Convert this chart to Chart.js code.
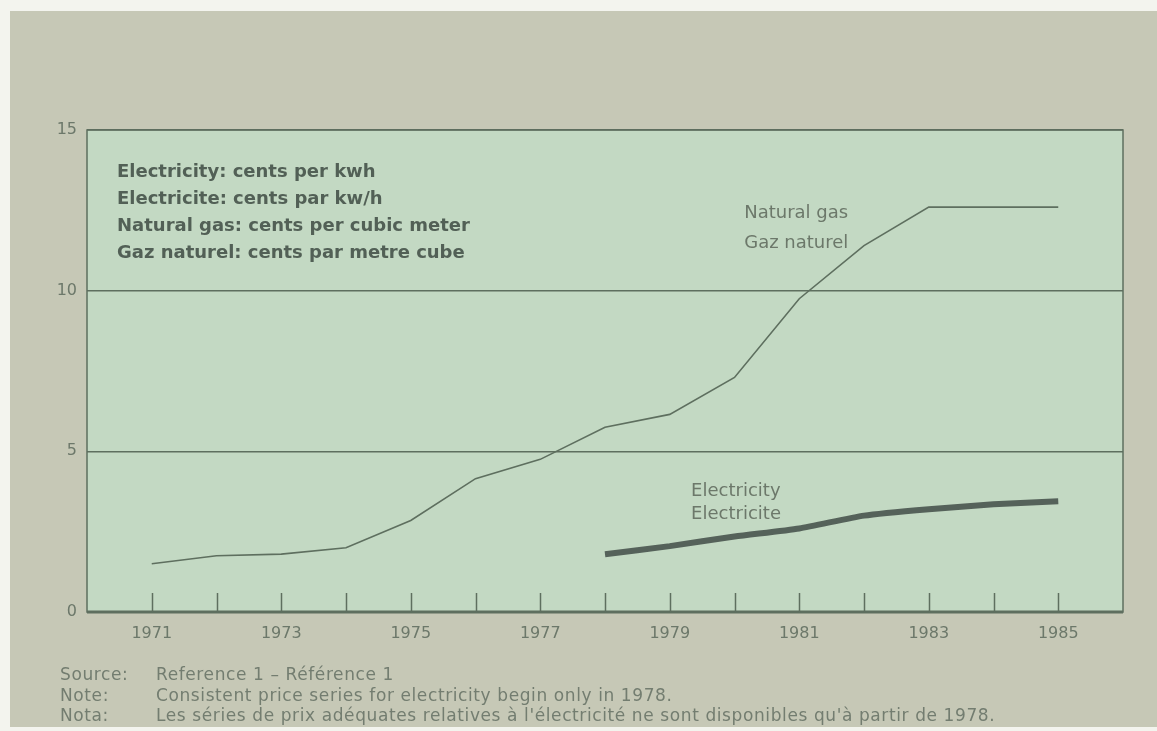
<!DOCTYPE html>
<html>
<head>
<meta charset="utf-8">
<title>Natural gas and electricity prices</title>
<script src="https://cdn.jsdelivr.net/npm/chart.js@4/dist/chart.umd.min.js"></script>
<style>
    html, body { margin: 0; padding: 0; background: #f3f4ee; }
    #price_chart { display: block; }
</style>
</head>
<body>
<canvas id="price_chart" width="1157" height="731"></canvas>
<script>
// values
const gas_years = [1971, 1972, 1973, 1974, 1975, 1976, 1977, 1978, 1979, 1980, 1981, 1982, 1983, 1984, 1985];
const gas_prices = [1.5, 1.75, 1.8, 2.0, 2.85, 4.15, 4.75, 5.75, 6.15, 7.3, 9.75, 11.4, 12.6, 12.6, 12.6];

const elec_years = [1978, 1979, 1980, 1981, 1982, 1983, 1984, 1985];
const elec_prices = [1.8, 2.05, 2.35, 2.6, 3.0, 3.2, 3.35, 3.45];

const unit_notes = [
    'Electricity: cents per kwh',
    'Electricite: cents par kw/h',
    'Natural gas: cents per cubic meter',
    'Gaz naturel: cents par metre cube'
];
const gas_label = ['Natural gas', 'Gaz naturel'];
const elec_label = ['Electricity', 'Electricite'];

const foot_heads = ['Source:', 'Note:', 'Nota:'];
const foot_texts = [
    'Reference 1 \u2013 R\u00e9f\u00e9rence 1',
    'Consistent price series for electricity begin only in 1978.',
    'Les s\u00e9ries de prix ad\u00e9quates relatives \u00e0 l\'\u00e9lectricit\u00e9 ne sont disponibles qu\'\u00e0 partir de 1978.'
];

const font_family = '"DejaVu Sans", "Liberation Sans", sans-serif';
const line_color = '#5e6f5f';
const text_color = '#6c786a';

Chart.defaults.font.family = font_family;

const to_points = (xs, ys) => xs.map((x, i) => ({x: x, y: ys[i]}));

// panel, plot box, inward ticks and all the loose text
const page_plugin = {
    id: 'page_plugin',
    beforeDraw(chart) {
        const ctx = chart.ctx;
        const area = chart.chartArea;
        ctx.save();
        ctx.fillStyle = '#f3f4ee';
        ctx.fillRect(0, 0, chart.width, chart.height);
        ctx.fillStyle = '#c6c8b6';
        ctx.fillRect(10, 11, chart.width - 10, 716);
        ctx.fillStyle = '#c3d9c3';
        ctx.fillRect(area.left, area.top, area.right - area.left, area.bottom - area.top);
        ctx.restore();
    },
    afterDraw(chart) {
        const ctx = chart.ctx;
        const area = chart.chartArea;
        const x_scale = chart.scales.x;
        const y_scale = chart.scales.y;
        ctx.save();

        ctx.strokeStyle = line_color;
        ctx.lineWidth = 1.5;
        ctx.strokeRect(area.left, area.top, area.right - area.left, area.bottom - area.top);
        ctx.lineWidth = 3;
        ctx.beginPath();
        ctx.moveTo(area.left, area.bottom);
        ctx.lineTo(area.right, area.bottom);
        ctx.stroke();

        // ticks point up into the plot
        ctx.lineWidth = 1.5;
        x_scale.ticks.forEach(function(t) {
            if (t.value < gas_years[0] || t.value > gas_years[gas_years.length - 1]) return;
            const px = Math.round(x_scale.getPixelForValue(t.value)) + 0.5;
            ctx.beginPath();
            ctx.moveTo(px, area.bottom);
            ctx.lineTo(px, area.bottom - 19);
            ctx.stroke();
        });

        ctx.textBaseline = 'middle';
        ctx.textAlign = 'left';

        ctx.fillStyle = '#526056';
        ctx.font = 'bold 18px ' + font_family;
        unit_notes.forEach(function(s, i) {
            ctx.fillText(s, area.left + 30, area.top + 42 + i * 27);
        });

        ctx.fillStyle = text_color;
        ctx.font = '18px ' + font_family;
        ctx.fillText(gas_label[0], x_scale.getPixelForValue(1980.15), y_scale.getPixelForValue(12.42));
        ctx.fillText(gas_label[1], x_scale.getPixelForValue(1980.15), y_scale.getPixelForValue(11.48));
        ctx.fillText(elec_label[0], x_scale.getPixelForValue(1979.33), y_scale.getPixelForValue(3.77));
        ctx.fillText(elec_label[1], x_scale.getPixelForValue(1979.33), y_scale.getPixelForValue(3.05));

        // footnotes are set wide in the original
        ctx.fillStyle = '#737d70';
        ctx.font = '17px ' + font_family;
        ctx.letterSpacing = '0.6px';
        foot_heads.forEach(function(h, i) {
            const y = 676 + i * 20.5;
            ctx.fillText(h, 60, y);
            ctx.fillText(foot_texts[i], 156, y);
        });

        ctx.restore();
    }
};

const price_chart = new Chart(document.getElementById('price_chart'), {
    type: 'line',
    data: {
        datasets: [
            {
                label: 'Natural gas',
                data: to_points(gas_years, gas_prices),
                borderColor: line_color,
                borderWidth: 1.6,
                pointRadius: 0,
                tension: 0,
                fill: false
            },
            {
                label: 'Electricity',
                data: to_points(elec_years, elec_prices),
                borderColor: '#55625a',
                borderWidth: 6,
                borderCapStyle: 'butt',
                pointRadius: 0,
                tension: 0.2,
                fill: false
            }
        ]
    },
    options: {
        responsive: false,
        devicePixelRatio: 1,
        animation: false,
        layout: {
            padding: {top: 130, right: 34, left: 0, bottom: 0}
        },
        scales: {
            x: {
                type: 'linear',
                min: 1970,
                max: 1986,
                grid: {display: false, drawTicks: false},
                border: {display: false},
                ticks: {
                    stepSize: 1,
                    autoSkip: false,
                    maxRotation: 0,
                    padding: 12,
                    color: text_color,
                    font: {size: 16},
                    callback: function(v) {
                        return (v % 2 === 1 && v >= 1971 && v <= 1985) ? String(v) : '';
                    }
                },
                afterFit: function(scale) { scale.height = 119; }
            },
            y: {
                min: 0,
                max: 15,
                grid: {color: line_color, lineWidth: 1.5, drawTicks: false},
                border: {display: false},
                ticks: {
                    stepSize: 5,
                    padding: 10,
                    color: text_color,
                    font: {size: 16}
                },
                afterFit: function(scale) { scale.width = 87; }
            }
        },
        plugins: {
            legend: {display: false},
            tooltip: {enabled: false}
        }
    },
    plugins: [page_plugin]
});
</script>
</body>
</html>
